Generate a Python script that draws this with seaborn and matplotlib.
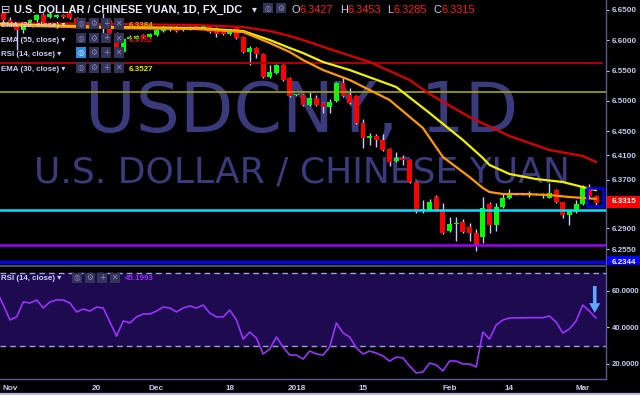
import numpy as np
import pandas as pd
import matplotlib
matplotlib.use("Agg")
import matplotlib.pyplot as plt
import seaborn as sns
from matplotlib import font_manager as fm
from matplotlib.patches import Rectangle
from matplotlib.lines import Line2D

# ---------------- data (bar index 0 = 1 Nov 2017, one bar per weekday) ----------------
bar_index = list(range(-1, 89))
opens = [6.6450, 6.6335, 6.6290, 6.6170, 6.6250, 6.6335, 6.6417, 6.6390, 6.6384, 6.6417,
         6.6450, 6.6368, 6.6219, 6.6302, 6.6252, 6.6290, 6.6335, 6.6120, 6.5807, 6.6021,
         6.6021, 6.6090, 6.6060, 6.6087, 6.6153, 6.6203, 6.6219, 6.6170, 6.6186, 6.6236,
         6.6203, 6.6236, 6.6203, 6.6137, 6.6104, 6.6203, 6.6054, 6.5807, 6.5873, 6.5774,
         6.5394, 6.5460, 6.5592, 6.5378, 6.5090, 6.5097, 6.4932, 6.5048, 6.4965, 6.4899,
         6.4998, 6.5295, 6.5097, 6.5081, 6.4635, 6.4388, 6.4421, 6.4355, 6.4206, 6.4008,
         6.4058, 6.4025, 6.3662, 6.3200, 6.3200, 6.3414, 6.3216, 6.2853, 6.2975, 6.3002,
         6.2919, 6.2820, 6.2754, 6.3299, 6.2952, 6.3249, 6.3398, 6.3470, 6.3468, 6.3462,
         6.3465, 6.3450, 6.3398, 6.3530, 6.3332, 6.3117, 6.3167, 6.3299, 6.3579, 6.3427]
highs = [6.6480, 6.6380, 6.6300, 6.6290, 6.6350, 6.6440, 6.6450, 6.6460, 6.6440, 6.6440,
         6.6480, 6.6390, 6.6320, 6.6330, 6.6320, 6.6450, 6.6350, 6.6140, 6.6040, 6.6080,
         6.6090, 6.6110, 6.6120, 6.6190, 6.6240, 6.6230, 6.6240, 6.6220, 6.6240, 6.6250,
         6.6260, 6.6250, 6.6220, 6.6150, 6.6190, 6.6220, 6.6070, 6.5906, 6.5890, 6.5790,
         6.5592, 6.5610, 6.5610, 6.5400, 6.5110, 6.5110, 6.5147, 6.5100, 6.4980, 6.5031,
         6.5310, 6.5378, 6.5213, 6.5100, 6.4701, 6.4470, 6.4454, 6.4454, 6.4220, 6.4157,
         6.4107, 6.4040, 6.3680, 6.3365, 6.3380, 6.3447, 6.3315, 6.3084, 6.3084, 6.3050,
         6.2990, 6.2886, 6.3414, 6.3332, 6.3315, 6.3480, 6.3546, 6.3480, 6.3478, 6.3513,
         6.3475, 6.3480, 6.3645, 6.3546, 6.3340, 6.3200, 6.3365, 6.3612, 6.3630, 6.3453]
lows = [6.6300, 6.6260, 6.5840, 6.6120, 6.6230, 6.6300, 6.6280, 6.6370, 6.6370, 6.6370,
        6.6350, 6.6260, 6.6200, 6.6240, 6.6230, 6.6120, 6.6100, 6.5770, 6.5790, 6.6000,
        6.6000, 6.6040, 6.6040, 6.6070, 6.6140, 6.6150, 6.6140, 6.6150, 6.6170, 6.6190,
        6.6190, 6.6120, 6.6054, 6.6090, 6.6090, 6.6020, 6.5790, 6.5592, 6.5708, 6.5380,
        6.5378, 6.5440, 6.5330, 6.5060, 6.5080, 6.4915, 6.4915, 6.4915, 6.4800, 6.4800,
        6.4980, 6.5060, 6.4950, 6.4620, 6.4223, 6.4272, 6.4239, 6.4170, 6.3926, 6.3990,
        6.3942, 6.3645, 6.3150, 6.3150, 6.3180, 6.3180, 6.2800, 6.2840, 6.2688, 6.2820,
        6.2688, 6.2523, 6.2655, 6.2820, 6.2853, 6.3230, 6.3380, 6.3450, 6.3450, 6.3414,
        6.3445, 6.3398, 6.3390, 6.3320, 6.3068, 6.2952, 6.3150, 6.3290, 6.3410, 6.3285]
closes = [6.6335, 6.6290, 6.6170, 6.6250, 6.6330, 6.6417, 6.6302, 6.6430, 6.6417, 6.6384,
          6.6368, 6.6285, 6.6302, 6.6260, 6.6302, 6.6310, 6.6120, 6.5790, 6.6021, 6.6050,
          6.6070, 6.6060, 6.6100, 6.6170, 6.6219, 6.6170, 6.6153, 6.6203, 6.6219, 6.6203,
          6.6236, 6.6137, 6.6104, 6.6104, 6.6170, 6.6038, 6.5807, 6.5873, 6.5774, 6.5394,
          6.5477, 6.5592, 6.5345, 6.5081, 6.5100, 6.4932, 6.5048, 6.4932, 6.4899, 6.4982,
          6.5295, 6.5081, 6.4965, 6.4635, 6.4388, 6.4421, 6.4355, 6.4190, 6.3992, 6.4058,
          6.4025, 6.3662, 6.3200, 6.3210, 6.3332, 6.3200, 6.2820, 6.2969, 6.2985, 6.2837,
          6.2820, 6.2639, 6.3233, 6.2952, 6.3249, 6.3398, 6.3464, 6.3460, 6.3458, 6.3468,
          6.3455, 6.3455, 6.3480, 6.3332, 6.3117, 6.3183, 6.3299, 6.3579, 6.3431, 6.3315]

ema20_idx = [-2, 15, 28, 35, 39, 42, 44, 47, 51, 57, 62, 65, 69, 71, 72, 74, 77, 81, 84, 88]
ema20_val = [6.6252, 6.6203, 6.6186, 6.6137, 6.5955, 6.5807, 6.5675, 6.5510, 6.5345, 6.5015,
             6.4553, 6.4074, 6.3744, 6.3563, 6.3497, 6.3464, 6.3464, 6.3447, 6.3414, 6.3384]
ema30_idx = [-2, 15, 28, 35, 39, 42, 44, 47, 51, 58, 63, 68, 71, 72, 75, 79, 83, 86, 88]
ema30_val = [6.6269, 6.6219, 6.6203, 6.6153, 6.6005, 6.5873, 6.5790, 6.5642, 6.5510, 6.5229,
             6.4800, 6.4355, 6.4058, 6.3942, 6.3794, 6.3711, 6.3662, 6.3579, 6.3527]
ema55_idx = [-2, 15, 28, 35, 39, 42, 44, 48, 54, 60, 63, 69, 75, 81, 86, 88]
ema55_val = [6.6285, 6.6269, 6.6252, 6.6219, 6.6153, 6.6071, 6.6005, 6.5856, 6.5642, 6.5345,
             6.5114, 6.4734, 6.4421, 6.4190, 6.4091, 6.3992]

rsi_idx = list(range(-2, 89))
rsi_val = [60.0, 52.3, 44.1, 45.8, 54.0, 53.4, 55.1, 50.7, 54.0, 55.1,
           55.1, 53.4, 48.5, 50.1, 49.0, 51.2, 50.7, 43.0, 35.3, 43.6,
           42.5, 45.8, 47.4, 47.4, 49.0, 51.2, 50.7, 48.5, 50.7, 51.8,
           50.7, 52.3, 47.9, 45.8, 45.8, 49.6, 44.1, 33.7, 37.5, 34.2,
           25.5, 28.2, 34.8, 29.3, 24.9, 24.9, 22.7, 27.1, 25.5, 24.9,
           29.3, 42.5, 37.0, 34.8, 28.8, 25.5, 27.1, 26.0, 24.4, 21.6,
           23.8, 23.3, 18.9, 15.1, 15.6, 20.5, 19.5, 16.2, 21.6, 21.6,
           20.0, 20.0, 18.4, 37.5, 33.7, 41.4, 44.1, 45.2, 45.3, 45.3,
           45.4, 45.4, 45.4, 46.3, 43.0, 37.0, 39.2, 43.6, 52.3, 49.0, 45.2]

hlines = [6.5625, 6.5147, 6.3200, 6.2622, 6.2344]
price_ticks = [6.65, 6.60, 6.55, 6.50, 6.45, 6.41, 6.37, 6.29, 6.255]
rsi_ticks = [60, 40, 20]
date_tick_idx = [0, 13, 22, 33, 43, 53, 66, 75, 86]
date_tick_lbl = ["Nov", "20", "Dec", "18", "2018", "15", "Feb", "14", "Mar"]
last_open, last_high, last_low, last_close = 6.3427, 6.3453, 6.3285, 6.3315

# ---------------- style ----------------
sns.set_theme(style="dark", rc={"axes.facecolor": "black", "figure.facecolor": "black",
                                "axes.edgecolor": "black"})


def pick(cands):
    for c in cands:
        try:
            fm.findfont(fm.FontProperties(family=c), fallback_to_default=False)
            return c
        except Exception:
            pass
    return "DejaVu Sans"


UI = pick(["Liberation Sans", "Arimo", "DejaVu Sans"])
NARROW = pick(["Liberation Sans Narrow", "DejaVu Sans Condensed"])
if NARROW == "DejaVu Sans":
    NARROW, HDR_SIZE = UI, 7.9
else:
    HDR_SIZE = 9.3
plt.rcParams["font.family"] = [UI, "DejaVu Sans"]

W, H = 640, 395
fig = plt.figure(figsize=(6.4, 3.95), dpi=100, facecolor="black")
ax = fig.add_axes([0, 1 - 264 / H, 606 / W, 264 / H])
ax2 = fig.add_axes([0, 1 - 379 / H, 606 / W, (379 - 267) / H])
for a in (ax, ax2):
    a.set_facecolor("black")
    a.grid(False)

LAV = "#c8c8f0"

# ---------------- price pane ----------------
ax.text(302 / 606, 1 - 132 / 264, "USDCNY, 1D", transform=ax.transAxes, ha="center",
        va="baseline", fontsize=50, color="#3a3a7c", family="DejaVu Sans", zorder=0)
ax.text(302 / 606, 1 - 183 / 264, "U.S. DOLLAR / CHINESE YUAN", transform=ax.transAxes,
        ha="center", va="baseline", fontsize=26, color="#3a3a7c", family="DejaVu Sans", zorder=0)

o = np.array(opens); c = np.array(closes); hi = np.array(highs); lo = np.array(lows)
xi = np.array(bar_index)
up = c >= o
ax.vlines(xi, lo, hi, color="#c8c8ff", lw=1.0, zorder=2)
body_bottom = np.minimum(o, c)
body_h = np.maximum(np.abs(c - o), 0.0016)
ax.bar(xi, body_h, bottom=body_bottom, width=0.74,
       color=np.where(up, "#00ff00", "#ff0000"), linewidth=0, zorder=3)

hl_colors = ["#b00000", "#a8a800", "#00e5ff", "#9c00ff", "#0000ff"]
hl_widths = [1.4, 1.2, 1.8, 1.8, 2.2]
hl_xmax = [0.993, 1, 1, 1, 1]
for v, col, lw, xm in zip(hlines, hl_colors, hl_widths, hl_xmax):
    ax.axhline(v, color=col, lw=lw, xmax=xm, zorder=4)

sns.lineplot(x=ema55_idx, y=ema55_val, ax=ax, color="#dd0000", lw=1.6, zorder=5)
sns.lineplot(x=ema30_idx, y=ema30_val, ax=ax, color="#f0f000", lw=1.6, zorder=5)
sns.lineplot(x=ema20_idx, y=ema20_val, ax=ax, color="#ff9900", lw=1.6, zorder=5)

ax.add_patch(Rectangle((86.65, 6.3266), 2.4, 0.0297, fill=False, edgecolor="#0000ff",
                       lw=1.8, zorder=6))

ax.set_xlim(-1.5, 89.49)
ax.set_ylim(6.2309, 6.6665)
ax.set_xticks([])
ax.yaxis.tick_right()
ax.set_yticks(price_ticks)
ax.set_yticklabels([f"{v:.4f}" for v in price_ticks])
ax.tick_params(axis="y", colors=LAV, labelsize=5.8, length=2.5, width=0.8, pad=1.5)
for t in ax.get_yticklabels():
    t.set_fontweight("bold")
for s in ax.spines.values():
    s.set_visible(False)
ax.spines["right"].set_visible(True)
ax.spines["right"].set_color("#5a5a9a")
ax.spines["right"].set_linewidth(1.0)
ax.set_xlabel(""); ax.set_ylabel("")

# ---------------- RSI pane ----------------
ax2.axhspan(30, 70, color="#1d0a4f", zorder=0)
ax2.axhline(70, color="#a0a0d8", lw=1.0, ls=(0, (4, 3)), zorder=1)
ax2.axhline(30, color="#a0a0d8", lw=1.0, ls=(0, (4, 3)), zorder=1)
sns.lineplot(x=rsi_idx, y=rsi_val, ax=ax2, color="#9933ff", lw=1.2, zorder=3)
ax2.annotate("", xy=(87.8, 48.0), xytext=(87.8, 62.7),
             arrowprops=dict(width=2.6, headwidth=8, headlength=7, color="#5fa8ff",
                             shrink=0, lw=0), zorder=5)
ax2.set_xlim(-1.5, 89.49)
ax2.set_ylim(11.78, 73.15)
ax2.yaxis.tick_right()
ax2.set_yticks(rsi_ticks)
ax2.set_yticklabels([f"{v:.4f}" for v in rsi_ticks])
ax2.set_xticks(date_tick_idx)
ax2.set_xticklabels(date_tick_lbl)
ax2.tick_params(axis="both", colors=LAV, labelsize=5.6, length=2.5, width=0.8, pad=1.5)
ax2.tick_params(axis="x", labelsize=5.9)
for t in ax2.get_yticklabels() + ax2.get_xticklabels():
    t.set_fontweight("bold")
for s in ax2.spines.values():
    s.set_visible(False)
for side in ("right", "bottom"):
    ax2.spines[side].set_visible(True)
    ax2.spines[side].set_color("#5a5a9a")
    ax2.spines[side].set_linewidth(1.0)
ax2.set_xlabel(""); ax2.set_ylabel("")


# ---------------- overlay texts ----------------
def fx(x):
    return x / W


def fy(y):
    return 1 - y / H


def ftext(x, y, s, **kw):
    kw.setdefault("va", "baseline")
    kw.setdefault("ha", "left")
    kw.setdefault("zorder", 6)
    fig.text(fx(x), fy(y), s, **kw)


def fline(x0, x1, y, color, lw):
    fig.add_artist(Line2D([fx(x0), fx(x1)], [fy(y), fy(y)], color=color, lw=lw,
                          transform=fig.transFigure, zorder=7))


def icon(x, y, sym, bg="#34345a", fg="#8c8cb4"):
    fig.add_artist(Rectangle((fx(x), fy(y + 10)), 10 / W, 10 / H, transform=fig.transFigure,
                             facecolor=bg, edgecolor="none", zorder=6))
    fig.text(fx(x + 5), fy(y + 5), sym, ha="center", va="center", fontsize=5.5, color=fg,
             family=["DejaVu Sans"], zorder=7)


fline(0, 606, 265.5, "#4a4a80", 1.4)
fline(0, 640, 394, "#b8b8d8", 1.6)

# header
ftext(1, 13.3, "\u229f", fontsize=8, color="#d8d8ff", family=["DejaVu Sans"])
ftext(14, 13.3, "U.S. DOLLAR / CHINESE YUAN, 1D, FX_IDC", fontsize=HDR_SIZE,
      color="#ececff", fontweight="bold", family=[NARROW, "DejaVu Sans"])
ftext(252, 12.5, "\u25be", fontsize=7, color="#d8d8ff", family=["DejaVu Sans"])
icon(263, 3, "\u25ce")
icon(276, 3, "\u2699")
for s, x, col in [("O", 291, LAV), ("6.3427", 299, "#ff1a1a"), ("H", 340, LAV),
                  ("6.3453", 348, "#ff1a1a"), ("L", 387, LAV), ("6.3285", 394, "#ff1a1a"),
                  ("C", 433, LAV), ("6.3315", 441, "#ff1a1a")]:
    ftext(x, 13.3, s, fontsize=HDR_SIZE, color=col, family=[NARROW, "DejaVu Sans"])

rows = [(27, "EMA (20, close) \u25be", "6.3384", "#f0a000", False),
        (41.5, "EMA (55, close) \u25be", "6.3992", "#e00000", False),
        (56, "RSI (14, close) \u25be", None, None, True),
        (71, "EMA (30, close) \u25be", "6.3527", "#e8e800", False)]
for yb, lbl, val, vcol, hl in rows:
    ftext(1, yb, lbl, fontsize=5.7, color="#d0d0ff", fontweight="bold",
          family=[UI, "DejaVu Sans"])
    top = yb - 8.5
    if hl:
        icon(76, top, "\u25ce", bg="#2f8fe0", fg="#e0f0ff")
    else:
        icon(76, top, "\u25ce")
    icon(88.5, top, "\u2699")
    icon(101, top, "+")
    icon(113.5, top, "\u2715")
    if val:
        ftext(129, yb, val, fontsize=5.8, color=vcol, fontweight="bold",
              family=[UI, "DejaVu Sans"])

# RSI legend
ftext(1, 280, "RSI (14, close) \u25be", fontsize=5.7, color="#d0d0ff", fontweight="bold",
      family=[UI, "DejaVu Sans"])
icon(72, 272.5, "\u25ce")
icon(84.5, 272.5, "\u2699")
icon(97, 272.5, "+")
icon(109.5, 272.5, "\u2715")
ftext(125, 280, "45.1993", fontsize=5.8, color="#9933ff", fontweight="bold",
      family=[UI, "DejaVu Sans"])

# price labels on the scale
fig.add_artist(Rectangle((fx(607), fy(208)), 33 / W, 12 / H, transform=fig.transFigure,
                         facecolor="#ff0000", edgecolor="none", zorder=8))
fig.text(fx(612), fy(202), f"{last_close:.4f}", ha="left", va="center", fontsize=5.8,
         color="white", fontweight="bold", zorder=9)
fig.add_artist(Rectangle((fx(607), fy(265)), 33 / W, 9 / H, transform=fig.transFigure,
                         facecolor="#0000ff", edgecolor="none", zorder=8))
fig.text(fx(612), fy(262), f"{hlines[-1]:.4f}", ha="left", va="center", fontsize=5.8,
         color="white", fontweight="bold", zorder=9)

fig.savefig("out.png", dpi=100, facecolor="black")
